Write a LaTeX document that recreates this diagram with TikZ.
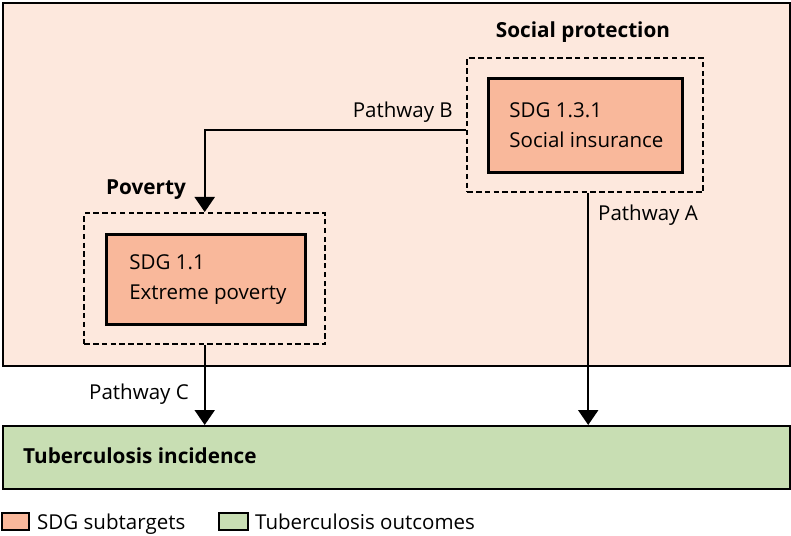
\documentclass[tikz,border=0pt]{standalone}
\usepackage{fontspec}
\setmainfont{Open Sans}
\usetikzlibrary{arrows.meta}
\definecolor{bgpink}{HTML}{FDE8DD}
\definecolor{boxpink}{HTML}{F9B89B}
\definecolor{tbgreen}{HTML}{C8DEB3}
\tikzset{
  region/.style={draw, line width=2.2bp, inner sep=0, anchor=north west},
  group/.style={draw, dash pattern=on 5.5bp off 3.3bp, line width=2.4bp, inner sep=0, anchor=north west},
  sdgbox/.style={draw, fill=boxpink, line width=2.8bp, inner sep=0, anchor=north west},
  boxtext/.style={align=left, inner sep=0, font=\fontsize{20.6}{30}\selectfont},
  lbl/.style={inner sep=0, font=\fontsize{20.6}{24}\selectfont},
  title/.style={inner sep=0, font=\fontsize{20.8}{24}\selectfont\bfseries},
  arr/.style={line width=2.2bp, -{Triangle[width=20bp,length=15bp]}},
}
\begin{document}
\begin{tikzpicture}[x=1bp,y=-1bp]
\useasboundingbox (0,0) rectangle (791,536);
% outer region
\node[region, fill=bgpink, minimum width=787bp, minimum height=363bp] (outer) at (2,2) {};
% social protection
\node[group, minimum width=236bp, minimum height=134bp] (spdash) at (466,57) {};
\node[sdgbox, minimum width=194bp, minimum height=94bp] (sibox) at (487,77) {};
\node[boxtext] (sitext) at ([xshift=1bp]sibox.center) {SDG 1.3.1\\Social insurance};
\node[title, anchor=base] (sptitle) at (583,38) {Social protection};
% poverty
\node[group, minimum width=241bp, minimum height=131bp] (povdash) at (83,212) {};
\node[sdgbox, minimum width=199bp, minimum height=90bp] (epbox) at (105,233) {};
\node[boxtext] (eptext) at ([xshift=2bp]epbox.center) {SDG 1.1\\Extreme poverty};
\node[title, anchor=base west] (povtitle) at (106,195) {Poverty};
% tuberculosis
\node[region, fill=tbgreen, minimum width=787bp, minimum height=63bp] (tb) at (2,425) {};
\node[title, anchor=base west] (tbtext) at (23,463) {Tuberculosis incidence};
% pathways
\coordinate (bstart) at ([yshift=-5bp]spdash.west);
\draw[arr] (bstart) -| (povdash.north);
\node[lbl, anchor=base east] (pb) at (453,118) {Pathway B};
\coordinate (astart) at ([xshift=3bp]spdash.south);
\draw[arr] (astart) -- (astart |- tb.north);
\node[lbl, anchor=base west] (pa) at (598,221) {Pathway A};
\draw[arr] (povdash.south) -- (povdash.south |- tb.north);
\node[lbl, anchor=base east] (pc) at (189,399) {Pathway C};
% legend
\node[draw, fill=boxpink, line width=2.2bp, inner sep=0, minimum width=27bp, minimum height=17bp, anchor=north west] (lgpink) at (1,512) {};
\node[lbl, anchor=base west] (lgpinktext) at (37,529) {SDG subtargets};
\node[draw, fill=tbgreen, line width=2.2bp, inner sep=0, minimum width=29bp, minimum height=17bp, anchor=north west] (lggreen) at (218,512) {};
\node[lbl, anchor=base west] (lggreentext) at (255,529) {Tuberculosis outcomes};
\end{tikzpicture}
\end{document}
